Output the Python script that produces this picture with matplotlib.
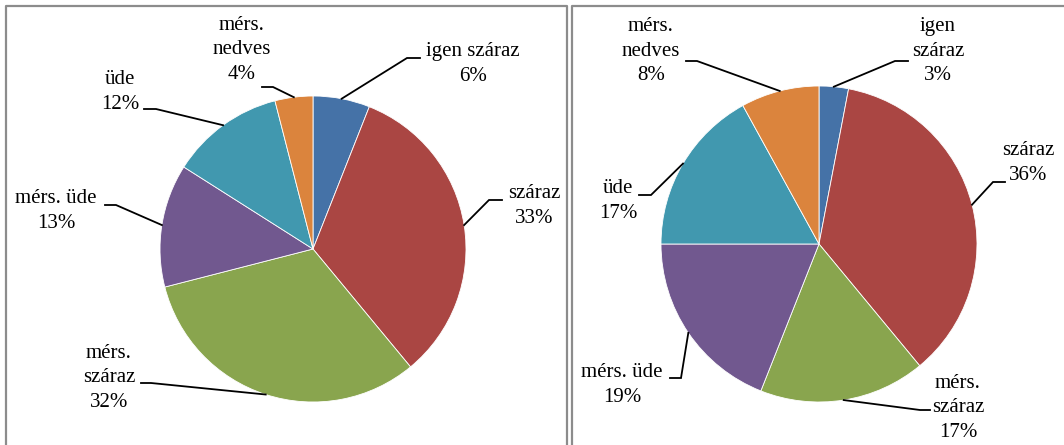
import matplotlib
matplotlib.use('Agg')
import matplotlib.pyplot as plt
import numpy as np

W, H = 1064, 445

categories = ['igen száraz', 'száraz', 'mérs. száraz', 'mérs. üde', 'üde', 'mérs. nedves']
left_values = [6, 33, 32, 13, 12, 4]
right_values = [3, 36, 17, 19, 17, 8]
left_labels = ['igen száraz\n6%', 'száraz\n33%', 'mérs.\nszáraz\n32%',
               'mérs. üde\n13%', 'üde\n12%', 'mérs.\nnedves\n4%']
right_labels = ['igen\nszáraz\n3%', 'száraz\n36%', 'mérs.\nszáraz\n17%',
                'mérs. üde\n19%', 'üde\n17%', 'mérs.\nnedves\n8%']
colors = ['#4572A7', '#AA4643', '#89A54E', '#71588F', '#4198AF', '#DB843D']

# layout (pixel coords from top-left): pie centre/radius, label centre, elbow, end of horizontal
left_layout = dict(center=(313, 249), radius=153,
                   text=[(473, 64), (534, 206), (109, 378), (56, 211), (120, 92), (242, 50)],
                   elbow=[(407, 58), (489, 200), (151, 383), (116, 205), (156, 109), (273, 87)],
                   hend=[420, 502, 141, 105, 144, 262])
right_layout = dict(center=(819, 244), radius=158,
                    text=[(938, 51), (1028, 163), (958, 408), (622, 385), (618, 201), (651, 51)],
                    elbow=[(895, 61), (993, 182), (920, 410), (681, 378), (651, 195), (697, 61)],
                    hend=[908, 1005, 930, 670, 639, 686])

fig = plt.figure(figsize=(W / 100, H / 100), dpi=100)
ax = fig.add_axes([0, 0, 1, 1])

font = dict(family=['Liberation Serif', 'DejaVu Serif'], fontsize=15)


def draw(values, labels, lay):
    cx, cy = lay['center']
    r = lay['radius']
    wedges, _ = ax.pie(values, colors=colors, startangle=90, counterclock=False,
                       center=(cx, H - cy), radius=r, frame=True,
                       wedgeprops=dict(edgecolor='white', linewidth=0.6))
    for w, lab, (tx, ty), (ex, ey), hx in zip(wedges, labels, lay['text'],
                                              lay['elbow'], lay['hend']):
        ang = np.deg2rad((w.theta1 + w.theta2) / 2)
        px = cx + r * np.cos(ang)
        py = (H - cy) + r * np.sin(ang)
        ax.plot([px, ex, hx], [py, H - ey, H - ey], color='black', lw=1.3,
                solid_joinstyle='miter')
        ax.text(tx, H - ty, lab, ha='center', va='center', linespacing=1.38,
                color='black', **font)


draw(left_values, left_labels, left_layout)
draw(right_values, right_labels, right_layout)

border = '#8c8c8c'
ax.plot([6, 6, 567, 567], [0, H - 6, H - 6, 0], color=border, lw=1.6)
ax.plot([572, 572, W + 5], [0, H - 6, H - 6], color=border, lw=1.6)

ax.set_xlim(0, W)
ax.set_ylim(0, H)
ax.set_aspect('equal')
ax.axis('off')

fig.savefig('out.png', dpi=100)
